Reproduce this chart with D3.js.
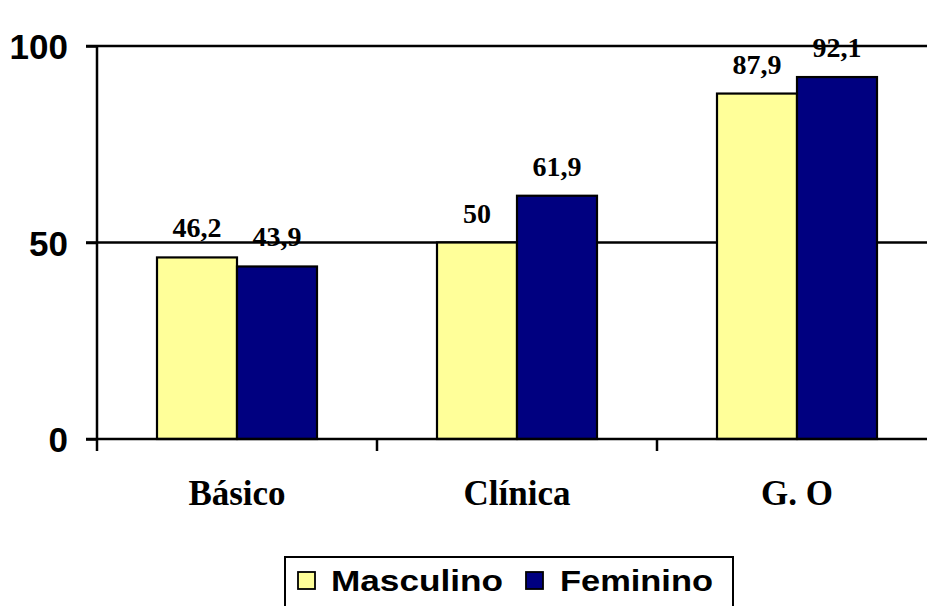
<!DOCTYPE html>
<html>
<head>
<meta charset="utf-8">
<script src="https://cdn.jsdelivr.net/npm/d3@7"></script>
<style>
  html, body { margin: 0; padding: 0; background: #fff; }
  svg { display: block; }
</style>
</head>
<body>
<svg id="chart" width="927" height="606"></svg>
<script>
// Chart data
const categories = ["Básico", "Clínica", "G. O"];
const seriesNames = ["Masculino", "Feminino"];
const masculino = [46.2, 50, 87.9];
const feminino = [43.9, 61.9, 92.1];
const valueLabels = [["46,2", "50", "87,9"], ["43,9", "61,9", "92,1"]];
const yTicks = [0, 50, 100];
const colors = ["#FFFF99", "#000080"];

const svg = d3.select("#chart");
const plotLeft = 97, plotRight = 937, plotTop = 46, plotBottom = 439;
const lineW = 2.5;

const x = d3.scaleBand().domain(categories).range([plotLeft, plotRight]).paddingInner(0).paddingOuter(0);
const inner = d3.scaleBand().domain(seriesNames).range([60, x.bandwidth() - 60]);
const y = d3.scaleLinear().domain([0, 100]).range([plotBottom, plotTop]);

// Horizontal gridlines (with the tick stub extending left of the axis)
svg.append("g")
  .selectAll("line")
  .data(yTicks.filter(d => d > 0))
  .join("line")
  .attr("x1", plotLeft - 11).attr("x2", plotRight)
  .attr("y1", d => y(d)).attr("y2", d => y(d))
  .attr("stroke", "#000").attr("stroke-width", lineW);

// Bars
const series = [masculino, feminino];
series.forEach((vals, si) => {
  svg.append("g")
    .selectAll("rect")
    .data(vals)
    .join("rect")
    .attr("x", (d, i) => x(categories[i]) + inner(seriesNames[si]))
    .attr("y", d => y(d))
    .attr("width", inner.bandwidth())
    .attr("height", d => y(0) - y(d))
    .attr("fill", colors[si])
    .attr("stroke", "#000")
    .attr("stroke-width", 2.2);
});

// Value labels
series.forEach((vals, si) => {
  svg.append("g")
    .selectAll("text")
    .data(vals)
    .join("text")
    .attr("x", (d, i) => x(categories[i]) + inner(seriesNames[si]) + inner.bandwidth() / 2)
    .attr("y", d => y(d) - 20)
    .attr("text-anchor", "middle")
    .attr("font-family", "'Liberation Serif', 'Times New Roman', serif")
    .attr("font-weight", "bold")
    .attr("font-size", 28)
    .text((d, i) => valueLabels[si][i]);
});

// Y axis
const yAxis = d3.axisLeft(y).tickValues(yTicks).tickSize(11).tickPadding(18).tickFormat(d3.format("d"));
const gy = svg.append("g").attr("transform", `translate(${plotLeft},0)`).call(yAxis);
gy.select(".domain").attr("d", `M0,${plotTop}V${plotBottom}`).attr("stroke-width", lineW);
gy.selectAll(".tick line").attr("stroke-width", lineW);
gy.selectAll(".tick text")
  .attr("font-family", "'Liberation Sans', Arial, sans-serif")
  .attr("font-weight", "bold")
  .attr("font-size", 35)
  .attr("fill", "#000")
  .attr("dy", "0.36em");

// X axis: ticks mark category boundaries
const gx = svg.append("g").attr("transform", `translate(0,${plotBottom})`);
gx.append("line").attr("x1", plotLeft - 11).attr("x2", plotRight).attr("stroke", "#000").attr("stroke-width", lineW);
gx.selectAll("line.tk")
  .data(categories.map(c => x(c)).concat([plotRight]))
  .join("line")
  .attr("class", "tk")
  .attr("x1", d => d).attr("x2", d => d)
  .attr("y1", 0).attr("y2", 12)
  .attr("stroke", "#000").attr("stroke-width", lineW);
gx.selectAll("text")
  .data(categories)
  .join("text")
  .attr("x", d => x(d) + x.bandwidth() / 2)
  .attr("y", 66)
  .attr("text-anchor", "middle")
  .attr("font-family", "'Liberation Serif', 'Times New Roman', serif")
  .attr("font-weight", "bold")
  .attr("font-size", 35)
  .text(d => d);

// Legend
const legend = svg.append("g");
legend.append("rect")
  .attr("x", 285).attr("y", 557).attr("width", 448).attr("height", 60)
  .attr("fill", "#fff").attr("stroke", "#000").attr("stroke-width", 2);
const legendItems = [
  { name: seriesNames[0], color: colors[0], sx: 298, tx: 331, tw: 172 },
  { name: seriesNames[1], color: colors[1], sx: 526, tx: 560, tw: 153 }
];
legendItems.forEach(it => {
  legend.append("rect")
    .attr("x", it.sx).attr("y", 572).attr("width", 17).attr("height", 17)
    .attr("fill", it.color).attr("stroke", "#000").attr("stroke-width", 1.8);
  legend.append("text")
    .attr("x", it.tx).attr("y", 591)
    .attr("font-family", "'Liberation Sans', Arial, sans-serif")
    .attr("font-weight", "bold")
    .attr("font-size", 30)
    .attr("textLength", it.tw)
    .attr("lengthAdjust", "spacingAndGlyphs")
    .text(it.name);
});
</script>
</body>
</html>
